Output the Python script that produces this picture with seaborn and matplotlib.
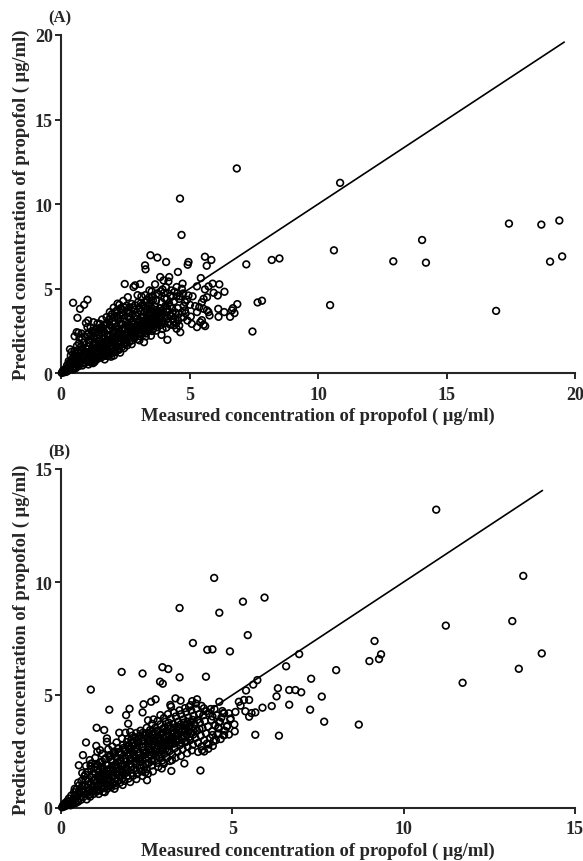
import pandas as pd
import matplotlib
matplotlib.use('Agg')
import matplotlib.pyplot as plt
import seaborn as sns

# Panel A values, (measured, predicted)
a_sparse = [
    (10.86, 11.26), (10.62, 7.27), (10.47, 4.03), (12.93, 6.62), (14.05, 7.88), (14.2, 6.54),
    (16.93, 3.69), (17.43, 8.85), (18.69, 8.79), (19.39, 9.03), (19.03, 6.6), (19.5, 6.91),
    (6.84, 12.11), (4.63, 10.33), (4.69, 8.18), (7.21, 6.44), (8.2, 6.7), (8.5, 6.79),
    (7.45, 2.47), (7.65, 4.19), (7.82, 4.29), (5.6, 6.89), (5.85, 6.7), (5.67, 6.36),
    (4.96, 6.58), (4.93, 6.42), (4.55, 5.99), (3.27, 6.38), (3.29, 6.15), (3.48, 6.98),
    (3.75, 6.84), (4.09, 6.58), (5.44, 5.63), (5.29, 5.14), (5.74, 5.14), (5.9, 5.3),
    (5.6, 4.96), (6.16, 5.26), (6.36, 4.82), (6.1, 4.6), (5.94, 4.76), (5.68, 4.5),
    (5.55, 4.4), (5.48, 4.2), (6.86, 4.09), (6.69, 3.85), (6.65, 3.72), (6.75, 3.56),
    (6.58, 3.34), (6.35, 3.62), (6.12, 3.81), (6.13, 3.34), (5.78, 3.42), (5.68, 3.72),
    (5.74, 3.62), (5.22, 3.97), (5.29, 3.62), (5.38, 3.91), (5.55, 3.81), (5.09, 2.92),
    (5.29, 2.73), (5.42, 3.02), (5.55, 2.87), (5.48, 3.14), (5.61, 2.79), (4.77, 3.32),
    (4.55, 3.12), (4.71, 3.62), (4.77, 3.97), (4.64, 2.43), (4.5, 2.63), (4.25, 2.87),
    (4.4, 2.83), (4.31, 3.38), (4.14, 1.98), (3.91, 2.27), (3.23, 1.84), (2.06, 1.05),
    (4.73, 5.3), (4.5, 5.1), (4.7, 5.0), (4.96, 4.6), (4.83, 4.2), (3.86, 5.69),
    (4.21, 5.69), (4.18, 5.43), (3.99, 5.49), (3.66, 5.26), (3.44, 4.9), (3.53, 4.84),
    (3.95, 4.96), (4.08, 5.1), (2.48, 5.28), (3.08, 5.28), (2.82, 5.1), (2.88, 5.2),
    (2.27, 4.05), (0.47, 4.17), (0.74, 3.81), (0.9, 4.05), (1.03, 4.35), (0.64, 3.28),
    (0.61, 2.43), (0.68, 2.39), (0.53, 2.19), (0.35, 1.42), (0.97, 2.98), (1.06, 3.12),
    (1.26, 3.02), (1.77, 3.32), (1.52, 2.92), (1.03, 2.73), (4.6, 4.4), (4.85, 3.55),
]
a_band = [
    (0.03, 0.02), (0.06, 0.1), (0.1, 0.05), (0.12, 0.2), (0.16, 0.12), (0.2, 0.08), (0.22, 0.3), (0.24, 0.48),
    (0.28, 0.18), (0.31, 0.36), (0.33, 0.62), (0.37, 0.25), (0.4, 0.48), (0.42, 0.8), (0.45, 0.32), (0.48, 0.98),
    (0.5, 0.6), (0.53, 0.38), (0.56, 0.82), (0.58, 1.16), (0.61, 0.5), (0.64, 0.68), (0.66, 1.38), (0.7, 0.98),
    (0.72, 0.55), (0.75, 1.2), (0.78, 1.6), (0.8, 0.75), (0.83, 0.46), (0.85, 1.42), (0.88, 1.02), (0.9, 1.82),
    (0.94, 0.62), (0.96, 1.25), (1.0, 0.85), (1.02, 2.3), (1.04, 1.6), (1.07, 0.52), (1.1, 1.08), (1.12, 1.95),
    (1.15, 0.72), (1.18, 1.38), (1.2, 2.5), (1.23, 0.92), (1.26, 1.7), (1.28, 2.15), (1.31, 0.68), (1.34, 1.15),
    (1.36, 1.5), (1.39, 2.62), (1.42, 0.85), (1.44, 1.9), (1.47, 2.3), (1.5, 1.05), (1.52, 1.35), (1.55, 2.72),
    (1.58, 0.95), (1.6, 1.72), (1.63, 2.1), (1.66, 1.2), (1.68, 2.45), (1.7, 1.5), (1.73, 2.9), (1.76, 1.03),
    (1.78, 1.85), (1.81, 2.25), (1.84, 1.32), (1.86, 2.65), (1.89, 1.62), (1.92, 3.35), (1.94, 1.16), (1.97, 2.0),
    (2.0, 3.05), (2.02, 1.42), (2.05, 2.4), (2.07, 1.75), (2.1, 3.62), (2.12, 1.25), (2.15, 2.75), (2.17, 2.12),
    (2.2, 1.58), (2.22, 3.2), (2.25, 1.38), (2.27, 2.5), (2.3, 1.88), (2.32, 3.85), (2.35, 2.9), (2.37, 1.55),
    (2.4, 2.25), (2.42, 3.45), (2.45, 1.72), (2.47, 2.68), (2.5, 2.05), (2.52, 3.05), (2.55, 4.0), (2.57, 1.65),
    (2.6, 2.45), (2.62, 3.6), (2.65, 1.85), (2.67, 2.85), (2.7, 3.25), (2.72, 2.2), (2.75, 4.1), (2.77, 1.95),
    (2.8, 2.62), (2.82, 3.05), (2.85, 3.75), (2.87, 2.1), (2.9, 2.4), (2.92, 3.42), (2.95, 2.82), (2.97, 2.02),
    (3.0, 4.2), (3.02, 2.55), (3.05, 3.15), (3.07, 2.2), (3.1, 3.65), (3.12, 2.95), (3.15, 2.35), (3.17, 4.05),
    (3.2, 2.7), (3.22, 3.35), (3.25, 2.45), (3.27, 3.85), (3.3, 3.05), (3.32, 2.6), (3.35, 4.35), (3.37, 2.85),
    (3.4, 3.5), (3.42, 2.52), (3.45, 3.2), (3.47, 4.1), (3.5, 2.75), (3.52, 3.65), (3.55, 3.0), (3.57, 4.55),
    (3.6, 2.65), (3.62, 3.35), (3.65, 3.95), (3.67, 2.9), (3.7, 4.3), (3.72, 3.15), (3.75, 2.72), (3.77, 3.6),
    (3.8, 4.65), (3.82, 3.0), (3.85, 3.85), (3.87, 2.85), (3.9, 3.4), (3.92, 4.2), (3.95, 3.1), (3.97, 3.7),
    (4.0, 4.75), (4.02, 2.95), (4.05, 3.45), (4.07, 4.0), (4.1, 3.2), (4.12, 4.4), (4.15, 3.65), (4.17, 3.0),
    (4.2, 4.15), (4.25, 3.45), (4.28, 4.6), (4.32, 3.85), (4.36, 3.2), (4.4, 4.25), (4.45, 3.6), (4.5, 4.55),
    (0.08, 0.15), (0.18, 0.28), (0.26, 0.14), (0.35, 0.52), (0.44, 0.62), (0.47, 0.22), (0.55, 1.0), (0.6, 0.9),
    (0.68, 0.42), (0.74, 0.88), (0.77, 1.35), (0.86, 0.58), (0.92, 1.12), (0.98, 1.48), (1.06, 0.78), (1.09, 1.82),
    (1.14, 1.28), (1.17, 0.62), (1.22, 1.55), (1.25, 1.1), (1.3, 1.82), (1.33, 0.78), (1.38, 1.28), (1.41, 2.05),
    (1.45, 1.6), (1.49, 0.92), (1.53, 1.88), (1.57, 2.4), (1.61, 1.28), (1.65, 1.62), (1.69, 1.08), (1.72, 2.05),
    (1.75, 1.4), (1.8, 1.72), (1.83, 2.55), (1.88, 1.2), (1.91, 2.2), (1.95, 1.5), (1.99, 2.7), (2.03, 1.92),
    (2.06, 1.3), (2.09, 2.5), (2.13, 1.62), (2.16, 3.4), (2.19, 2.28), (2.23, 1.45), (2.26, 2.95), (2.29, 2.1),
    (2.33, 1.7), (2.36, 3.6), (2.39, 2.6), (2.43, 1.95), (2.46, 3.25), (2.49, 2.35), (2.53, 1.8), (2.56, 2.8),
    (2.59, 3.35), (2.63, 2.15), (2.66, 3.9), (2.69, 2.55), (2.73, 3.0), (2.76, 2.35), (2.79, 3.5), (2.83, 2.15),
    (2.86, 2.95), (2.89, 2.55), (2.93, 3.2), (2.96, 3.6), (2.99, 2.3), (3.03, 3.0), (3.06, 3.85), (3.09, 2.7),
    (3.13, 3.35), (3.16, 2.5), (3.19, 3.1), (3.23, 2.85), (3.26, 3.6), (3.29, 2.35), (3.33, 3.25), (3.36, 3.8),
    (3.39, 2.95), (3.43, 3.6), (3.46, 2.65), (3.49, 3.4), (3.53, 3.85), (3.56, 3.15), (3.59, 2.85), (3.63, 3.6),
    (3.66, 3.25), (3.69, 3.75), (3.73, 3.45), (3.76, 3.05), (3.79, 3.3), (3.83, 3.6), (3.86, 3.2), (3.89, 3.7),
    (1.0, 1.25), (1.11, 0.92), (1.2, 2.02), (1.35, 2.42), (1.46, 1.2), (1.54, 1.05), (1.62, 2.25), (1.71, 1.78),
    (1.85, 1.02), (1.9, 2.85), (2.01, 2.25), (2.11, 2.95), (2.21, 2.6), (2.31, 2.35), (2.41, 2.9), (2.51, 2.6),
    (0.3, 0.72), (0.38, 1.05), (0.52, 1.3), (0.62, 1.62), (0.7, 1.78), (0.82, 2.02), (0.93, 2.18), (1.08, 2.38),
    (1.16, 2.25), (1.24, 2.4), (1.32, 2.55), (1.43, 2.48), (1.5, 2.62), (1.59, 2.58), (1.67, 2.82), (1.79, 2.98),
    (1.87, 3.15), (1.98, 3.5), (2.08, 3.3), (2.18, 3.72), (2.28, 3.42), (2.38, 3.75), (2.48, 3.88), (2.58, 3.7),
    (2.68, 3.55), (2.78, 3.9), (2.88, 4.02), (3.11, 4.15), (3.21, 3.95), (3.31, 4.18), (3.41, 4.05), (3.51, 4.3),
    (0.57, 0.3), (0.65, 0.6), (0.76, 0.7), (0.84, 0.92), (0.95, 0.95), (1.05, 1.42), (1.13, 1.15), (1.21, 0.8),
    (1.29, 1.42), (1.37, 0.92), (1.48, 1.75), (1.56, 1.52), (1.64, 1.38), (1.74, 1.25), (1.82, 1.95), (1.93, 1.78),
    (2.04, 1.55), (2.14, 1.98), (2.24, 1.8), (2.34, 2.15), (2.44, 2.12), (2.54, 2.3), (2.64, 2.65), (2.74, 2.72),
    (2.84, 2.4), (2.94, 2.6), (3.04, 2.35), (3.14, 2.8), (3.24, 2.62), (3.34, 3.0), (3.44, 2.82), (3.54, 2.5),
    (3.64, 3.1), (3.74, 2.95), (3.84, 3.4), (3.94, 3.55), (4.04, 3.3), (4.14, 3.8), (4.24, 3.95), (4.34, 3.55),
]
a_outer = [
    (4.42, 4.82), (4.55, 3.85), (4.62, 4.55), (4.68, 3.3), (4.75, 4.72), (4.82, 3.72), (4.9, 4.35), (4.38, 3.05),
    (4.48, 2.95), (4.58, 3.5), (4.3, 4.9), (4.15, 4.75), (4.03, 4.42), (3.88, 4.85), (3.73, 4.72), (3.58, 4.32),
    (3.43, 4.48), (3.28, 4.62), (3.13, 4.55), (2.98, 4.62), (2.6, 4.5), (2.42, 4.28), (2.2, 4.12), (2.05, 3.88),
    (1.9, 3.62), (1.6, 3.18), (1.42, 2.95), (1.15, 2.72), (0.8, 2.35), (0.72, 2.1), (0.42, 1.28), (3.5, 2.22),
    (3.7, 2.52), (3.95, 2.62), (4.1, 2.7), (3.3, 2.18), (3.05, 1.95), (2.75, 1.72), (2.45, 1.48), (2.3, 1.22),
    (1.95, 0.98), (1.7, 0.82), (1.25, 0.6), (4.92, 3.12), (4.6, 2.82), (5.02, 4.05), (5.12, 4.55), (5.05, 3.35),
]

# Panel B values
b_sparse = [
    (10.95, 13.2), (13.49, 10.27), (13.17, 8.27), (11.23, 8.07), (14.03, 6.84), (13.36, 6.16),
    (11.72, 5.54), (9.15, 7.39), (9.34, 6.8), (9.28, 6.59), (9.0, 6.5), (8.03, 6.1),
    (6.95, 6.81), (7.3, 5.72), (7.01, 5.12), (6.84, 5.22), (6.66, 5.22), (7.61, 4.93),
    (7.27, 4.35), (7.68, 3.82), (8.69, 3.69), (6.66, 4.57), (4.47, 10.18), (3.46, 8.85),
    (4.62, 8.64), (5.31, 9.13), (5.94, 9.31), (5.45, 7.65), (3.85, 7.3), (4.27, 7.0),
    (4.42, 7.02), (4.93, 6.93), (6.57, 6.27), (3.46, 5.78), (4.23, 5.81), (5.73, 5.66),
    (5.61, 5.46), (5.4, 5.2), (4.62, 4.7), (6.33, 5.3), (6.29, 4.94), (6.15, 4.51),
    (5.88, 4.44), (5.67, 4.23), (5.56, 4.2), (5.49, 4.04), (5.38, 4.28), (5.49, 4.78),
    (5.34, 4.78), (5.19, 4.7), (5.24, 4.53), (5.09, 4.25), (4.9, 4.19), (4.74, 4.2),
    (4.94, 3.92), (5.06, 3.7), (4.84, 3.6), (5.07, 3.39), (4.61, 3.8), (4.59, 3.57),
    (4.74, 3.22), (4.42, 3.23), (4.57, 3.27), (5.67, 3.24), (6.36, 3.2), (0.87, 5.24),
    (1.77, 6.02), (2.38, 5.95), (2.96, 6.23), (3.13, 6.15), (2.89, 5.59), (2.97, 5.5),
    (1.41, 4.35), (2.0, 4.39), (1.9, 4.11), (1.96, 3.73), (2.41, 4.59), (2.38, 4.23),
    (2.63, 4.7), (2.76, 4.81), (2.54, 3.88), (2.7, 3.92), (2.9, 4.11), (3.19, 4.56),
    (3.34, 4.85), (3.49, 4.75), (3.21, 4.48), (3.83, 4.73), (3.97, 4.81), (3.74, 4.48),
    (4.17, 4.41), (4.37, 4.38), (4.48, 4.38), (1.04, 3.55), (1.26, 3.45), (0.73, 2.9),
    (1.03, 2.75), (1.06, 2.49), (1.14, 2.56), (0.64, 2.34), (0.52, 1.89), (0.73, 1.86),
    (0.89, 1.97), (1.34, 3.08), (1.34, 2.93), (1.7, 3.33), (1.88, 3.33), (2.02, 3.37),
    (2.39, 3.33), (2.56, 3.33), (4.07, 1.66), (3.6, 1.97), (3.22, 1.64), (2.94, 1.75),
    (2.98, 2.01), (2.51, 1.23), (2.46, 1.57), (3.24, 2.12), (4.12, 2.56), (4.43, 2.75),
    (4.31, 2.81), (4.76, 3.22), (4.85, 3.64), (4.6, 3.52), (4.64, 3.82), (4.95, 3.96),
    (4.71, 4.29), (4.76, 4.19),
]
b_band = [
    (0.03, 0.03), (0.06, 0.12), (0.09, 0.06), (0.12, 0.22), (0.15, 0.1), (0.18, 0.3), (0.2, 0.14), (0.23, 0.42),
    (0.25, 0.2), (0.28, 0.12), (0.3, 0.55), (0.33, 0.28), (0.35, 0.18), (0.38, 0.7), (0.4, 0.38), (0.43, 0.22),
    (0.45, 0.82), (0.48, 0.5), (0.5, 0.28), (0.53, 1.0), (0.55, 0.65), (0.58, 0.36), (0.6, 1.2), (0.63, 0.82),
    (0.65, 0.48), (0.68, 1.4), (0.7, 1.0), (0.73, 0.62), (0.75, 0.38), (0.78, 1.6), (0.8, 1.18), (0.83, 0.75),
    (0.85, 0.5), (0.88, 1.72), (0.9, 1.35), (0.93, 0.92), (0.95, 0.62), (0.98, 1.82), (1.0, 1.5), (1.02, 1.1),
    (1.05, 0.8), (1.08, 1.9), (1.1, 0.62), (1.12, 1.6), (1.15, 1.25), (1.18, 0.95), (1.2, 2.05), (1.23, 0.72),
    (1.25, 1.72), (1.28, 1.38), (1.3, 2.2), (1.33, 1.05), (1.35, 0.85), (1.38, 1.9), (1.4, 1.5), (1.43, 2.35),
    (1.45, 1.2), (1.47, 0.92), (1.5, 2.05), (1.53, 1.65), (1.55, 2.5), (1.57, 1.32), (1.6, 1.0), (1.63, 2.2),
    (1.65, 1.78), (1.67, 2.65), (1.7, 1.45), (1.72, 1.12), (1.75, 2.35), (1.78, 1.9), (1.8, 2.78), (1.82, 1.58),
    (1.85, 1.2), (1.87, 2.5), (1.9, 2.05), (1.92, 2.92), (1.95, 1.7), (1.97, 1.3), (2.0, 2.62), (2.02, 2.18),
    (2.05, 3.02), (2.07, 1.82), (2.1, 1.42), (2.12, 2.75), (2.15, 2.3), (2.17, 3.12), (2.2, 1.95), (2.22, 1.5),
    (2.25, 2.88), (2.27, 2.42), (2.3, 3.2), (2.32, 2.05), (2.35, 1.62), (2.37, 3.0), (2.4, 2.55), (2.42, 1.82),
    (2.45, 3.3), (2.47, 2.2), (2.5, 1.72), (2.52, 3.12), (2.55, 2.7), (2.57, 2.0), (2.6, 3.45), (2.62, 2.35),
    (2.65, 1.88), (2.67, 3.25), (2.7, 2.82), (2.72, 2.12), (2.75, 3.55), (2.77, 2.5), (2.8, 2.0), (2.82, 3.38),
    (2.85, 2.95), (2.87, 2.25), (2.9, 3.7), (2.92, 2.65), (2.95, 2.1), (2.97, 3.5), (3.0, 3.08), (3.02, 2.4),
    (3.05, 3.82), (3.07, 2.78), (3.1, 2.22), (3.12, 3.62), (3.15, 3.2), (3.17, 2.52), (3.2, 3.95), (3.22, 2.9),
    (3.25, 2.35), (3.27, 3.72), (3.3, 3.3), (3.32, 2.65), (3.35, 4.05), (3.37, 3.02), (3.4, 2.48), (3.42, 3.82),
    (3.45, 3.42), (3.47, 2.78), (3.5, 4.15), (3.52, 3.12), (3.55, 2.6), (3.57, 3.92), (3.6, 3.52), (3.62, 2.9),
    (3.65, 4.25), (3.67, 3.22), (3.7, 2.7), (3.72, 4.0), (3.75, 3.62), (3.77, 3.0), (3.8, 4.32), (3.82, 3.32),
    (3.85, 2.8), (3.87, 4.08), (3.9, 3.7), (3.92, 3.1), (3.95, 4.4), (3.97, 3.42), (4.0, 2.88), (4.03, 4.15),
    (4.05, 3.78), (4.08, 3.2), (4.1, 2.72), (4.13, 3.52), (4.15, 4.1), (4.18, 3.0), (4.2, 3.85), (4.23, 3.3),
    (4.26, 2.85), (4.29, 3.6), (4.32, 4.18), (4.35, 3.1), (4.38, 3.9), (4.41, 3.4), (4.45, 2.95), (4.5, 3.65),
    (4.55, 4.1), (4.6, 3.3), (0.1, 0.16), (0.22, 0.26), (0.31, 0.2), (0.36, 0.42), (0.42, 0.58), (0.47, 0.35),
    (0.52, 0.75), (0.57, 0.52), (0.62, 0.98), (0.67, 0.7), (0.72, 1.25), (0.77, 0.9), (0.82, 0.58), (0.87, 1.05),
    (0.92, 1.5), (0.97, 0.78), (1.01, 1.28), (1.06, 1.7), (1.09, 1.0), (1.13, 0.78), (1.16, 1.45), (1.19, 1.8),
    (1.22, 1.12), (1.26, 0.88), (1.29, 1.55), (1.32, 1.9), (1.36, 1.22), (1.39, 1.02), (1.42, 1.72), (1.46, 2.15),
    (1.49, 1.38), (1.52, 1.08), (1.56, 1.88), (1.59, 2.3), (1.62, 1.5), (1.66, 1.2), (1.69, 2.0), (1.73, 2.45),
    (1.76, 1.62), (1.79, 1.3), (1.83, 2.15), (1.86, 2.6), (1.89, 1.78), (1.93, 1.42), (1.96, 2.3), (1.99, 2.78),
    (2.03, 1.95), (2.06, 1.55), (2.09, 2.45), (2.13, 2.9), (2.16, 2.08), (2.19, 1.68), (2.23, 2.6), (2.26, 3.05),
    (2.29, 2.2), (2.33, 1.78), (2.36, 2.72), (2.39, 2.32), (2.43, 2.95), (2.46, 1.95), (2.49, 2.48), (2.53, 2.85),
    (2.56, 2.2), (2.59, 2.95), (2.63, 2.55), (2.66, 2.1), (2.69, 3.05), (2.73, 2.68), (2.76, 2.3), (2.79, 3.15),
    (2.83, 2.75), (2.86, 2.45), (2.89, 3.25), (2.93, 2.85), (2.96, 2.55), (2.99, 3.35), (3.03, 2.92), (3.06, 2.62),
    (3.09, 3.42), (3.13, 3.0), (3.16, 2.75), (3.19, 3.52), (3.23, 3.1), (3.26, 2.85), (3.29, 3.55), (3.33, 3.18),
    (3.36, 2.92), (3.39, 3.62), (3.43, 3.25), (3.46, 3.0), (3.49, 3.7), (3.53, 3.35), (3.56, 3.08), (3.59, 3.78),
    (3.63, 3.42), (3.66, 2.95), (3.69, 3.82), (3.73, 3.4), (3.76, 3.15), (3.79, 3.8), (3.83, 3.55), (3.86, 3.25),
    (1.03, 0.72), (1.24, 1.48), (1.44, 0.98), (1.64, 1.62), (1.84, 1.5), (2.04, 2.6), (2.24, 2.15), (2.44, 2.4),
    (2.64, 2.8), (2.84, 3.1), (3.04, 3.15), (3.24, 3.35), (3.44, 3.5), (3.64, 3.65), (3.84, 3.9), (4.04, 3.5),
    (0.4, 0.85), (0.5, 1.12), (0.6, 0.72), (0.71, 1.48), (0.79, 1.05), (0.86, 1.88), (0.94, 1.2), (1.0, 1.95),
    (1.07, 1.4), (1.14, 2.02), (1.21, 1.62), (1.27, 2.15), (1.34, 1.7), (1.41, 2.25), (1.48, 1.82), (1.54, 2.38),
    (1.61, 1.88), (1.68, 2.48), (1.74, 2.1), (1.81, 2.65), (1.88, 2.2), (1.94, 2.72), (2.01, 2.4), (2.08, 2.88),
    (2.14, 2.55), (2.21, 2.95), (2.28, 2.75), (2.34, 3.1), (2.41, 2.72), (2.48, 3.22), (2.54, 2.95), (2.61, 3.1),
    (2.68, 3.4), (2.74, 2.95), (2.81, 3.42), (2.88, 3.05), (2.94, 3.3), (3.01, 3.55), (3.08, 3.2), (3.14, 3.78),
    (0.92, 0.72), (0.99, 0.98), (1.11, 1.38), (1.17, 1.1), (1.31, 1.25), (1.37, 1.62), (1.51, 1.45), (1.58, 1.18),
    (1.71, 1.72), (1.77, 1.42), (1.91, 1.58), (1.98, 1.9), (2.11, 1.7), (2.18, 2.2), (2.31, 1.9), (2.38, 2.12),
    (2.51, 1.92), (2.58, 2.35), (2.71, 2.42), (2.78, 2.62), (2.91, 2.38), (2.98, 2.75), (3.11, 2.55), (3.18, 2.9),
    (3.31, 2.85), (3.38, 3.3), (3.51, 2.88), (3.58, 3.2), (3.71, 3.55), (3.78, 3.3), (3.91, 3.5), (3.98, 3.9),
]
b_outer = [
    (2.2, 3.32), (2.08, 3.2), (2.32, 3.42), (2.5, 3.55), (2.66, 3.72), (2.82, 3.85), (3.0, 3.98), (3.12, 4.15),
    (3.3, 4.22), (3.46, 4.32), (3.62, 4.42), (3.78, 4.55), (3.94, 4.62), (4.1, 4.52), (1.5, 2.72), (1.38, 2.6),
    (1.62, 2.9), (1.78, 3.08), (1.95, 3.05), (1.2, 2.4), (1.0, 2.22), (0.84, 2.12), (0.62, 1.55), (4.24, 4.28),
    (4.42, 4.05), (4.52, 3.0), (4.3, 2.62), (4.18, 2.5), (4.0, 2.48), (3.82, 2.55), (3.68, 2.42), (3.5, 2.3),
    (3.34, 2.22), (3.18, 2.08), (3.0, 1.95), (2.84, 1.82), (2.68, 1.62), (2.54, 1.52), (2.38, 1.42), (2.2, 1.28),
    (2.02, 1.15), (1.8, 1.02), (1.56, 0.85), (1.28, 0.7), (4.66, 3.05), (4.78, 3.42), (4.9, 3.25), (4.68, 4.0),
]

a_line_end = 19.58
b_line_end = 14.05
a_ticks = [0, 5, 10, 15, 20]
b_ticks = [0, 5, 10, 15]
x_title = 'Measured concentration of propofol ( \u03bcg/ml)'
y_title = 'Predicted concentration of propofol ( \u03bcg/ml)'

sns.set_style('ticks')
plt.rcParams['font.family'] = ['Liberation Serif', 'DejaVu Serif']
plt.rcParams['font.weight'] = 'bold'

W, H = 583, 862
fig = plt.figure(figsize=(W / 100, H / 100), dpi=100)


def draw_panel(box, points, line_end, ticks, tag):
    left, top, right, bottom = box
    ax = fig.add_axes([left / W, 1 - bottom / H, (right - left) / W, (bottom - top) / H])
    df = pd.DataFrame(points, columns=['measured', 'predicted'])
    sns.lineplot(x=[0, line_end], y=[0, line_end], color='black', linewidth=1.2, ax=ax, zorder=2)
    sns.scatterplot(data=df, x='measured', y='predicted', ax=ax, s=23, marker='o',
                    facecolors='none', edgecolor='black', linewidth=1.2, clip_on=False, zorder=3)
    ax.set_xlim(ticks[0], ticks[-1])
    ax.set_ylim(ticks[0], ticks[-1])
    ax.set_xticks(ticks)
    ax.set_yticks(ticks)
    ax.tick_params(length=4, width=1.4, labelsize=13, pad=2)
    ax.xaxis.set_tick_params(pad=5)
    ax.set_xlabel(x_title, fontsize=13.4, fontweight='bold', labelpad=3)
    ax.set_ylabel(y_title, fontsize=13.4, fontweight='bold', labelpad=3)
    for side in ['left', 'bottom']:
        ax.spines[side].set_linewidth(1.5)
    sns.despine(ax=ax)
    fig.text(48 / W, 1 - (top - 18) / H, tag, fontsize=12, fontweight='bold', va='center')
    return ax


draw_panel((61, 36, 575, 374.3), a_sparse + a_band + a_outer, a_line_end, a_ticks, '(A)')
draw_panel((61, 470, 575, 809), b_sparse + b_band + b_outer, b_line_end, b_ticks, '(B)')

fig.savefig('out.png', dpi=100)
